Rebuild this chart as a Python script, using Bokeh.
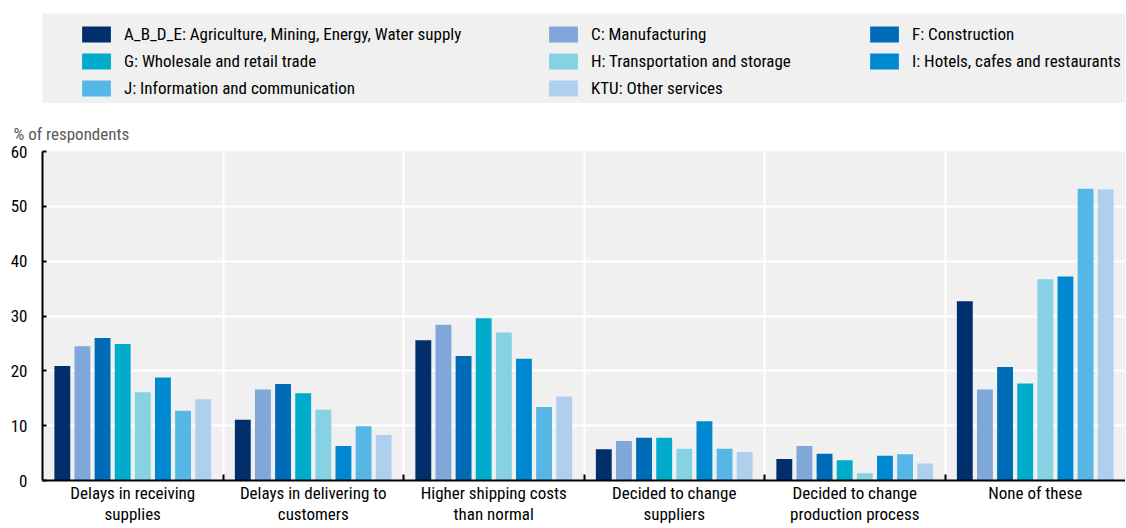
from bokeh.plotting import figure
from bokeh.layouts import column
from bokeh.models import (Legend, LegendItem, Range1d, LinearAxis,
                          FixedTicker, Title, ColumnDataSource)
from bokeh.transform import dodge
from bokeh.embed import file_html
from bokeh.resources import INLINE

categories = ["Delays in receiving supplies", "Delays in delivering to customers",
              "Higher shipping costs than normal", "Decided to change suppliers",
              "Decided to change production process", "None of these"]
category_labels = ["Delays in receiving\nsupplies", "Delays in delivering to\ncustomers",
                   "Higher shipping costs\nthan normal", "Decided to change\nsuppliers",
                   "Decided to change\nproduction process", "None of these"]
sectors = ["A_B_D_E: Agriculture, Mining, Energy, Water supply", "C: Manufacturing",
           "F: Construction", "G: Wholesale and retail trade",
           "H: Transportation and storage", "I: Hotels, cafes and restaurants",
           "J: Information and communication", "KTU: Other services"]
colors = ["#002F6C", "#7FA7D9", "#006BB6", "#00ABCB", "#86D2E3", "#0089D1", "#56B7E7", "#AFCFEE"]

agri = [20.9, 11.1, 25.6, 5.7, 3.9, 32.7]
manuf = [24.5, 16.6, 28.4, 7.2, 6.3, 16.6]
constr = [26.0, 17.6, 22.7, 7.8, 4.9, 20.7]
trade = [24.9, 15.9, 29.6, 7.8, 3.7, 17.7]
transport = [16.1, 12.9, 27.0, 5.8, 1.3, 36.7]
hotels = [18.8, 6.3, 22.2, 10.8, 4.5, 37.2]
info = [12.7, 9.9, 13.4, 5.8, 4.8, 53.2]
other = [14.8, 8.3, 15.3, 5.2, 3.1, 53.1]
series = [agri, manuf, constr, trade, transport, hotels, info, other]
y_ticks = [0, 10, 20, 30, 40, 50, 60]

FONT = "Liberation Sans Narrow, Roboto Condensed, Arial Narrow, Roboto"
FS = "17px"

n = len(categories)
centers = [i + 0.5 for i in range(n)]
bounds = list(range(1, n))

data = {"cat": categories, "xc": centers}
for i, s in enumerate(series):
    data["s%d" % i] = s
src = ColumnDataSource(data)

# ---------------- legend strip ----------------
# the strip shows only the legend: its range is set away from the data
lg = figure(width=1125, height=103, output_backend="svg", toolbar_location=None,
            x_axis_location=None, y_axis_location=None,
            x_range=Range1d(-20, -19), y_range=Range1d(-20, -19),
            min_border_left=38, min_border_right=0, min_border_top=13, min_border_bottom=0,
            background_fill_color="#f0f0f0", border_fill_color="white",
            outline_line_color=None)
lg.xgrid.visible = False
lg.ygrid.visible = False
lrs = [lg.vbar(x="xc", top="s%d" % i, width=0.088, source=src, fill_color=c, line_color=None)
       for i, c in enumerate(colors)]

col_members = [[0, 3, 6], [1, 4, 7], [2, 5]]
col_x = [36, 503, 824]
for members, x0 in zip(col_members, col_x):
    nrows = len(members)
    h = nrows * 21 + (nrows - 1) * 6
    y0 = 103 - (23 + h)
    leg = Legend(items=[LegendItem(label=sectors[m], renderers=[lrs[m]]) for m in members],
                 location=(x0, y0), orientation="vertical",
                 background_fill_alpha=0, border_line_color=None,
                 label_text_font=FONT, label_text_font_size=FS, label_text_color="black",
                 glyph_width=36, glyph_height=20, label_height=21, spacing=6,
                 label_standoff=10, padding=0, margin=0)
    lg.add_layout(leg, "center")

# ---------------- chart ----------------
p = figure(x_range=Range1d(0, n), y_range=Range1d(0, 60),
           width=1125, height=423, output_backend="svg", toolbar_location=None,
           x_axis_location=None,
           min_border_left=42, min_border_right=0, min_border_top=48, min_border_bottom=0,
           background_fill_color="#f0f0f0", border_fill_color="white",
           outline_line_color=None)

step = 0.1115
for i, col in enumerate(colors):
    p.vbar(x=dodge("xc", (i - 3.5) * step), top="s%d" % i,
           width=0.088, source=src, fill_color=col, line_color=None)

p.yaxis.ticker = FixedTicker(ticks=y_ticks)
p.yaxis.major_tick_in = 4
p.yaxis.major_tick_out = 0
p.yaxis.minor_tick_line_color = None
p.yaxis.axis_line_color = "black"
p.yaxis.axis_line_width = 2
p.yaxis.major_tick_line_width = 2
p.yaxis.major_label_text_font = FONT
p.yaxis.major_label_text_font_size = FS
p.yaxis.major_label_text_color = "black"
p.yaxis.major_label_standoff = 15
p.ygrid.grid_line_color = "white"
p.ygrid.grid_line_width = 2

baxis = LinearAxis(ticker=FixedTicker(ticks=bounds),
                   major_tick_in=6, major_tick_out=0, major_tick_line_width=2,
                   axis_line_color="black", axis_line_width=2,
                   minor_tick_line_color=None, major_label_text_font_size="0px",
                   major_label_standoff=0,
                   major_label_overrides={b: "" for b in bounds})
laxis = LinearAxis(ticker=FixedTicker(ticks=centers),
                   axis_line_color=None, major_tick_line_color=None,
                   minor_tick_line_color=None,
                   major_label_overrides=dict(zip(centers, category_labels)),
                   major_label_text_font=FONT, major_label_text_font_size=FS,
                   major_label_text_line_height=1.05,
                   major_label_text_color="black", major_label_standoff=-4)
p.add_layout(baxis, "below")
p.add_layout(laxis, "below")

p.xgrid.ticker = FixedTicker(ticks=bounds)
p.xgrid.grid_line_color = "white"
p.xgrid.grid_line_width = 2

title = Title(text="% of respondents", align="left", text_font=FONT,
              text_font_size=FS, text_color="#595959", text_font_style="normal",
              offset=-29, standoff=15)
p.add_layout(title, "above")

layout = column(lg, p, spacing=0)
open("out.html", "w").write(file_html(layout, INLINE))
